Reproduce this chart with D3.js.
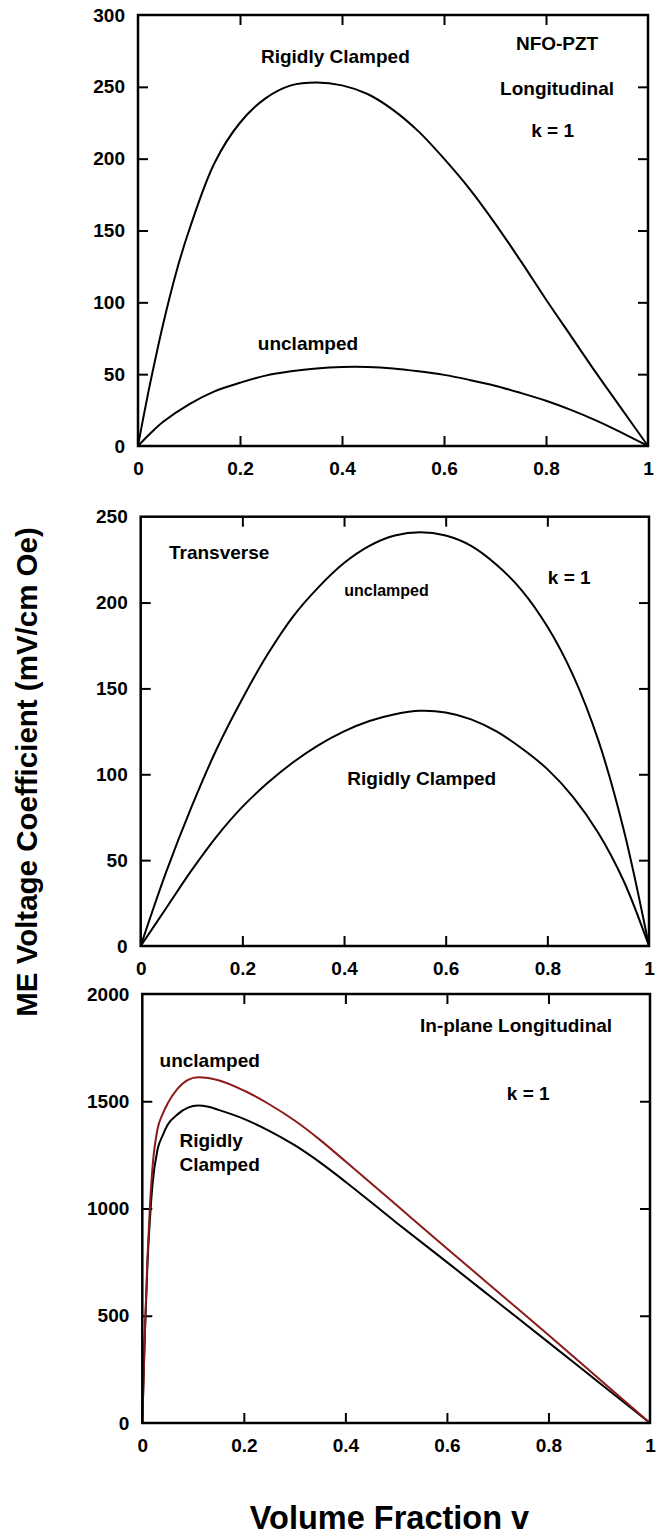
<!DOCTYPE html>
<html>
<head>
<meta charset="utf-8">
<script src="https://cdn.jsdelivr.net/npm/d3@7"></script>
<style>
  html, body { margin: 0; padding: 0; background: #fff; }
  svg { display: block; }
  text { font-family: "Liberation Sans", Arial, Helvetica, sans-serif; font-weight: bold; fill: #000; }
</style>
</head>
<body>
<svg id="chart" width="663" height="1536"></svg>
<script>
// ---------- DATA ----------
const xTickValues = [0, 0.2, 0.4, 0.6, 0.8, 1];
const xTickLabels = ["0", "0.2", "0.4", "0.6", "0.8", "1"];

// Panel 1 : Longitudinal
const p1Ticks = [0, 50, 100, 150, 200, 250, 300];
const p1RigidV = [0, 0.01, 0.02, 0.03, 0.05, 0.075, 0.1, 0.15, 0.2, 0.25, 0.3, 0.35, 0.4, 0.45, 0.5, 0.55, 0.6, 0.65, 0.7, 0.75, 0.8, 0.85, 0.9, 0.95, 1];
const p1RigidY = [0, 19, 37, 54, 86, 121, 150, 197, 225, 242, 251, 253, 251, 245, 234, 219, 200, 179, 155, 129, 102, 76, 50, 25, 0];
const p1UnclV = [0, 0.025, 0.05, 0.1, 0.15, 0.2, 0.25, 0.3, 0.35, 0.4, 0.45, 0.5, 0.55, 0.6, 0.65, 0.7, 0.75, 0.8, 0.85, 0.9, 0.95, 1];
const p1UnclY = [0, 9, 17, 29, 38, 44, 49, 52, 54, 55, 55, 54, 52, 49.5, 46, 42, 37, 31.5, 25, 17.5, 9, 0];

// Panel 2 : Transverse
const p2Ticks = [0, 50, 100, 150, 200, 250];
const p2V = [0, 0.05, 0.1, 0.15, 0.2, 0.25, 0.3, 0.35, 0.4, 0.45, 0.5, 0.55, 0.6, 0.65, 0.7, 0.75, 0.8, 0.85, 0.9, 0.95, 1];
const p2UnclY = [0, 43, 81, 115, 144, 170, 192, 209, 223, 233, 239, 241, 239, 233, 222, 207, 186, 158, 120, 68, 0];
const p2RigidY = [0, 22, 44, 64, 81, 95, 107, 117, 125, 131, 135, 137, 136, 132, 125, 115, 103, 87, 66, 38, 0];

// Panel 3 : In-plane Longitudinal
const p3Ticks = [0, 500, 1000, 1500, 2000];
const p3V = [0, 0.005, 0.01, 0.015, 0.02, 0.03, 0.04, 0.05, 0.07, 0.09, 0.11, 0.13, 0.15, 0.2, 0.25, 0.3, 0.35, 0.4, 0.5, 0.6, 0.7, 0.8, 0.9, 1];
const p3UnclY = [0, 420, 760, 1010, 1190, 1370, 1440, 1490, 1560, 1600, 1612, 1608, 1598, 1550, 1486, 1410, 1320, 1220, 1017, 814, 612, 410, 205, 0];
const p3RigidY = [0, 410, 730, 950, 1110, 1275, 1340, 1390, 1440, 1470, 1480, 1474, 1460, 1418, 1362, 1295, 1215, 1125, 935, 750, 563, 376, 188, 0];

// ---------- LAYOUT ----------
const svg = d3.select("#chart");
const FS = 19;

const panels = [
  { x0: 138, x1: 648, y0: 15, y1: 446, yMax: 300, ticks: p1Ticks, curve: d3.curveCatmullRom.alpha(0.5),
    series: [ { v: p1RigidV, y: p1RigidY, color: "#000" }, { v: p1UnclV, y: p1UnclY, color: "#000" } ],
    notes: [
      { v: 0.241, val: 266.6, t: "Rigidly Clamped" },
      { v: 0.741, val: 275.6, t: "NFO-PZT" },
      { v: 0.71, val: 244.3, t: "Longitudinal" },
      { v: 0.771, val: 215, t: "k = 1" },
      { v: 0.235, val: 66.8, t: "unclamped" }
    ] },
  { x0: 140.7, x1: 649, y0: 516.7, y1: 946, yMax: 250, ticks: p2Ticks, curve: d3.curveCatmullRom.alpha(0.5),
    series: [ { v: p2V, y: p2UnclY, color: "#000" }, { v: p2V, y: p2RigidY, color: "#000" } ],
    notes: [
      { v: 0.0557, val: 225.2, t: "Transverse" },
      { v: 0.801, val: 210.6, t: "k = 1" },
      { v: 0.4006, val: 203.8, t: "unclamped", fs: 16 },
      { v: 0.4065, val: 93.8, t: "Rigidly Clamped" }
    ] },
  { x0: 142.3, x1: 650, y0: 994, y1: 1423, yMax: 2000, ticks: p3Ticks, curve: d3.curveMonotoneX,
    series: [ { v: p3V, y: p3RigidY, color: "#000" }, { v: p3V, y: p3UnclY, color: "#8B1A1A" } ],
    notes: [
      { v: 0.547, val: 1822, t: "In-plane Longitudinal" },
      { v: 0.034, val: 1660, t: "unclamped" },
      { v: 0.718, val: 1506, t: "k = 1" },
      { v: 0.0733, val: 1287, t: "Rigidly" },
      { v: 0.0733, val: 1177, t: "Clamped" }
    ] }
];

panels.forEach(p => {
  const x = d3.scaleLinear().domain([0, 1]).range([p.x0, p.x1]);
  const y = d3.scaleLinear().domain([0, p.yMax]).range([p.y1, p.y0]);
  const g = svg.append("g");

  const innerX = xTickValues.filter(d => d > 0 && d < 1);
  const innerY = p.ticks.filter(d => d > 0 && d < p.yMax);

  const bx = g.append("g").attr("transform", `translate(0,${p.y1})`)
    .call(d3.axisBottom(x).tickValues(xTickValues)
      .tickFormat((d, i) => xTickLabels[i]).tickSizeInner(-10).tickSizeOuter(0).tickPadding(16));
  const ly = g.append("g").attr("transform", `translate(${p.x0},0)`)
    .call(d3.axisLeft(y).tickValues(p.ticks).tickFormat(d3.format("d"))
      .tickSizeInner(-10).tickSizeOuter(0).tickPadding(13));
  const tx = g.append("g").attr("transform", `translate(0,${p.y0})`)
    .call(d3.axisTop(x).tickValues(innerX).tickFormat("").tickSizeInner(-10).tickSizeOuter(0));
  const ry = g.append("g").attr("transform", `translate(${p.x1},0)`)
    .call(d3.axisRight(y).tickValues(innerY).tickFormat("").tickSizeInner(-10).tickSizeOuter(0));

  [bx, ly, tx, ry].forEach(a => {
    a.select(".domain").remove();
    a.selectAll(".tick line").attr("stroke", "#000").attr("stroke-width", 2);
    a.selectAll(".tick text").attr("font-size", FS).attr("font-weight", "bold")
      .attr("font-family", "'Liberation Sans', Arial, Helvetica, sans-serif").attr("fill", "#000");
  });
  bx.selectAll(".tick").filter(d => d === 0 || d === 1).select("line").remove();
  ly.selectAll(".tick").filter(d => d === 0 || d === p.yMax).select("line").remove();

  const line = d3.line().x(d => x(d[0])).y(d => y(d[1])).curve(p.curve);
  p.series.forEach(s => {
    const pts = s.v.map((v, i) => [v, s.y[i]]);
    g.append("path").datum(pts).attr("d", line)
      .attr("fill", "none").attr("stroke", s.color).attr("stroke-width", 2)
      .attr("stroke-linejoin", "round");
  });

  g.append("rect").attr("x", p.x0).attr("y", p.y0)
    .attr("width", p.x1 - p.x0).attr("height", p.y1 - p.y0)
    .attr("fill", "none").attr("stroke", "#000").attr("stroke-width", 2.5);

  p.notes.forEach(n => {
    g.append("text").attr("x", x(n.v)).attr("y", y(n.val))
      .attr("font-size", n.fs || FS).text(n.t);
  });
});

svg.append("text")
  .attr("transform", "translate(37,772) rotate(-90)")
  .attr("text-anchor", "middle").attr("font-size", 29.5)
  .text("ME Voltage Coefficient (mV/cm Oe)");

svg.append("text")
  .attr("x", 389.5).attr("y", 1529)
  .attr("text-anchor", "middle").attr("font-size", 32.5)
  .text("Volume Fraction v");
</script>
</body>
</html>
